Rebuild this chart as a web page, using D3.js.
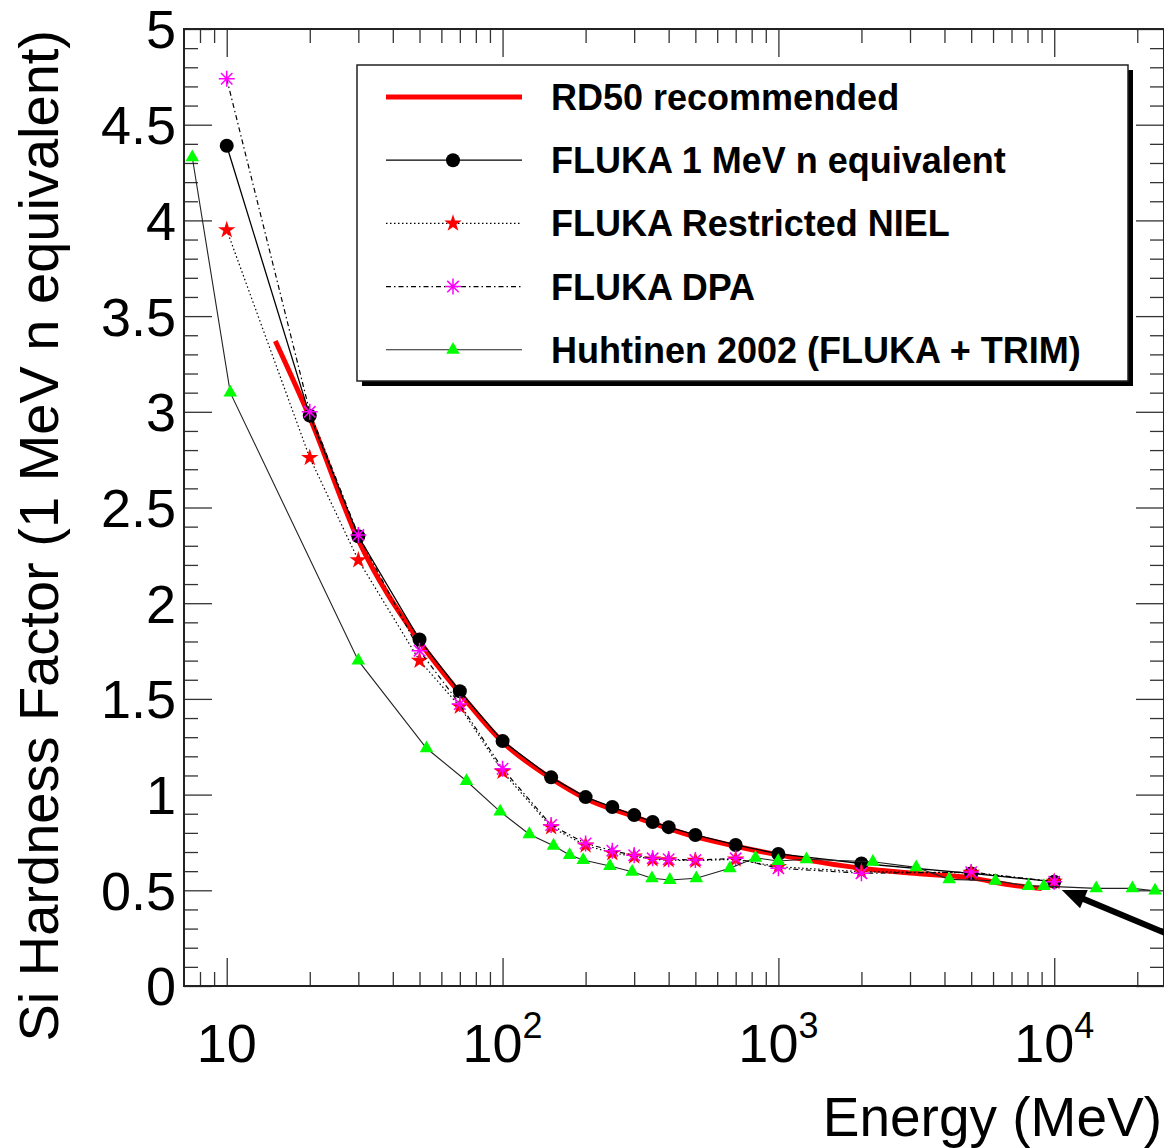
<!DOCTYPE html>
<html>
<head>
<meta charset="utf-8">
<script src="https://cdn.jsdelivr.net/npm/d3@7"></script>
<style>
  body { margin: 0; background: #fff; }
  svg { display: block; font-family: "Liberation Sans", Arial, Helvetica, sans-serif; }
</style>
</head>
<body>
<svg id="chart" width="1164" height="1148"></svg>
<script>
// energies (MeV) shared by the three FLUKA curves
const flukaEnergy = [10, 20, 30, 50, 70, 100, 150, 200, 250, 300, 350, 400, 500, 700, 1000, 2000, 5000, 10000];
const fluka1MeV   = [4.39, 2.98, 2.35, 1.81, 1.54, 1.28, 1.09, 0.987, 0.935, 0.893, 0.857, 0.83, 0.789, 0.737, 0.69, 0.64, 0.588, 0.545];
const flukaNiel   = [3.95, 2.76, 2.225, 1.70, 1.46, 1.12, 0.83, 0.735, 0.695, 0.678, 0.662, 0.658, 0.655, 0.662, 0.623, 0.597, 0.592, 0.545];
const flukaDpa    = [4.74, 3.00, 2.356, 1.752, 1.473, 1.135, 0.841, 0.745, 0.707, 0.683, 0.667, 0.662, 0.658, 0.667, 0.615, 0.589, 0.595, 0.545];

const huhtinenEnergy = [7.5, 10.3, 30, 53, 74, 98, 125, 153, 175, 196, 245, 295, 348, 404, 504, 667, 826, 998, 1264, 2200, 3160, 4160, 6120, 8070, 9170, 14200, 19200, 23200];
const huhtinenValues = [4.33, 3.10, 1.70, 1.242, 1.071, 0.911, 0.793, 0.733, 0.684, 0.658, 0.627, 0.597, 0.563, 0.554, 0.563, 0.615, 0.670, 0.653, 0.662, 0.649, 0.620, 0.557, 0.550, 0.522, 0.522, 0.510, 0.510, 0.498];

const rd50Energy = [15, 20, 30, 50, 70, 100, 150, 200, 300, 500, 700, 1000, 2000, 3000, 5000, 7000, 9000];
const rd50Values = [3.37, 2.97, 2.33, 1.80, 1.53, 1.275, 1.085, 0.98, 0.885, 0.78, 0.73, 0.685, 0.615, 0.59, 0.565, 0.527, 0.51];

const xMajorTicks = [10, 100, 1000, 10000];
const xTickBase   = ["10", "10", "10", "10"];
const xTickExp    = ["", "2", "3", "4"];
const yMajorTicks = [0, 0.5, 1, 1.5, 2, 2.5, 3, 3.5, 4, 4.5, 5];
const yTickLabels = ["0", "0.5", "1", "1.5", "2", "2.5", "3", "3.5", "4", "4.5", "5"];

const legendLabels = ["RD50 recommended", "FLUKA 1 MeV n equivalent", "FLUKA Restricted NIEL", "FLUKA DPA", "Huhtinen 2002 (FLUKA + TRIM)"];

// arrow annotation: tail, tip (energy, factor)
const arrowTail = [27000, 0.26];
const arrowTip  = [10650, 0.502];

let svg = d3.select("#chart"),
    pLeft = 184, pRight = 1164, pTop = 29, pBottom = 986;

let x = d3.scaleLog().domain([7, 25000]).range([pLeft, pRight]);
let y = d3.scaleLinear().domain([0, 5]).range([pBottom, pTop]);

const pts = (xs, ys) => xs.map((e, i) => [e, ys[i]]);

let line = d3.line().x(d => x(d[0])).y(d => y(d[1]));

// --- axes (ticks drawn inward on all four sides) ---
const minorX = x.ticks().filter(v => xMajorTicks.indexOf(v) < 0 && v > 7);
const minorY = d3.range(0, 51).map(i => i / 10).filter(v => Math.abs(v * 2 - Math.round(v * 2)) > 1e-6);

function styleAxis(g) {
  g.select(".domain").remove();
  g.selectAll("line").attr("stroke", "#333").attr("stroke-width", 1.3);
}

[[d3.axisBottom, pBottom], [d3.axisTop, pTop]].forEach(([ax, pos]) => {
  svg.append("g").attr("transform", "translate(0," + pos + ")")
    .call(ax(x).tickValues(minorX).tickSize(-14).tickFormat(""))
    .call(styleAxis);
  svg.append("g").attr("transform", "translate(0," + pos + ")")
    .call(ax(x).tickValues(xMajorTicks).tickSize(-28).tickFormat(""))
    .call(styleAxis);
});
[[d3.axisLeft, pLeft], [d3.axisRight, pRight]].forEach(([ax, pos]) => {
  svg.append("g").attr("transform", "translate(" + pos + ",0)")
    .call(ax(y).tickValues(minorY).tickSize(-14).tickFormat(""))
    .call(styleAxis);
  svg.append("g").attr("transform", "translate(" + pos + ",0)")
    .call(ax(y).tickValues(yMajorTicks).tickSize(-28).tickFormat(""))
    .call(styleAxis);
});

// frame
svg.append("rect")
  .attr("x", pLeft).attr("y", pTop)
  .attr("width", pRight - pLeft).attr("height", pBottom - pTop)
  .attr("fill", "none").attr("stroke", "#222").attr("stroke-width", 2);

// tick labels
svg.selectAll(".ylab").data(yMajorTicks).enter().append("text")
  .attr("class", "ylab")
  .attr("x", pLeft - 8).attr("y", d => y(d))
  .attr("dy", "0.36em")
  .attr("text-anchor", "end")
  .attr("font-size", 54)
  .text((d, i) => yTickLabels[i]);

let xl = svg.selectAll(".xlab").data(xMajorTicks).enter().append("text")
  .attr("class", "xlab")
  .attr("x", d => x(d)).attr("y", 1062)
  .attr("text-anchor", "middle")
  .attr("font-size", 54);
xl.append("tspan").text((d, i) => xTickBase[i]);
xl.append("tspan").attr("font-size", 36).attr("dy", -24).text((d, i) => xTickExp[i]);

// axis titles
svg.append("text")
  .attr("x", 1162).attr("y", 1136)
  .attr("text-anchor", "end")
  .attr("font-size", 55)
  .text("Energy (MeV)");

svg.append("text")
  .attr("transform", "translate(58," + (pTop + 1) + ") rotate(-90)")
  .attr("text-anchor", "end")
  .attr("font-size", 56)
  .text("Si Hardness Factor (1 MeV n equivalent)");

// --- markers ---
function marker(g, type) {
  if (type === "circle") {
    g.append("circle").attr("r", 7).attr("fill", "#000");
  } else if (type === "star") {
    g.append("path").attr("d", d3.symbol(d3.symbolStar, 95)()).attr("fill", "#ff0000");
  } else if (type === "asterisk") {
    g.append("path")
      .attr("d", "M-8,0L8,0M0,-8L0,8M-5.7,-5.7L5.7,5.7M-5.7,5.7L5.7,-5.7")
      .attr("stroke", "#ff00ff").attr("stroke-width", 1.5).attr("fill", "none");
  } else if (type === "triangle") {
    g.append("path").attr("d", d3.symbol(d3.symbolTriangle, 80)()).attr("fill", "#00ff00");
  }
}

const series = [
  { name: "rd50", data: pts(rd50Energy, rd50Values), stroke: "#ff0000", width: 5, dash: null, mark: null, curve: d3.curveMonotoneX },
  { name: "fluka1", data: pts(flukaEnergy, fluka1MeV), stroke: "#000", width: 1.3, dash: null, mark: "circle" },
  { name: "niel", data: pts(flukaEnergy, flukaNiel), stroke: "#000", width: 1.2, dash: "1.5,2.5", mark: "star" },
  { name: "dpa", data: pts(flukaEnergy, flukaDpa), stroke: "#000", width: 1.2, dash: "5,3,1.5,3", mark: "asterisk" },
  { name: "huhtinen", data: pts(huhtinenEnergy, huhtinenValues), stroke: "#222", width: 1.1, dash: null, mark: "triangle" }
];

series.forEach(s => {
  svg.append("path")
    .datum(s.data)
    .attr("fill", "none")
    .attr("stroke", s.stroke)
    .attr("stroke-width", s.width)
    .attr("stroke-dasharray", s.dash)
    .attr("d", line.curve(s.curve || d3.curveLinear));
  if (s.mark) {
    svg.selectAll(".m-" + s.name).data(s.data).enter().append("g")
      .attr("class", "m-" + s.name)
      .attr("transform", d => "translate(" + x(d[0]) + "," + y(d[1]) + ")")
      .each(function() { marker(d3.select(this), s.mark); });
  }
});

// --- arrow ---
{
  let tx = x(arrowTip[0]), ty = y(arrowTip[1]);
  let sx = x(arrowTail[0]), sy = y(arrowTail[1]);
  let dx = sx - tx, dy = sy - ty, len = Math.hypot(dx, dy);
  let ux = dx / len, uy = dy / len, px = -uy, py = ux;
  let hl = 24, hw = 10;
  svg.append("line")
    .attr("x1", sx).attr("y1", sy)
    .attr("x2", tx + ux * (hl - 2)).attr("y2", ty + uy * (hl - 2))
    .attr("stroke", "#000").attr("stroke-width", 6);
  svg.append("path")
    .attr("d", "M" + tx + "," + ty +
      "L" + (tx + ux * hl + px * hw) + "," + (ty + uy * hl + py * hw) +
      "L" + (tx + ux * hl - px * hw) + "," + (ty + uy * hl - py * hw) + "Z")
    .attr("fill", "#000");
}

// --- legend ---
let lg = svg.append("g");
lg.append("rect").attr("x", 362).attr("y", 70).attr("width", 771).attr("height", 316).attr("fill", "#000");
lg.append("rect").attr("x", 357).attr("y", 65).attr("width", 771).attr("height", 316)
  .attr("fill", "#fff").attr("stroke", "#222").attr("stroke-width", 1.5);

legendLabels.forEach((lab, i) => {
  let s = series[i];
  let ry = 97 + i * 63.2;
  let row = lg.append("g");
  row.append("line")
    .attr("x1", 386).attr("x2", 522).attr("y1", ry).attr("y2", ry)
    .attr("stroke", s.stroke)
    .attr("stroke-width", s.name === "rd50" ? 5 : s.width)
    .attr("stroke-dasharray", s.dash);
  if (s.mark) {
    let mg = row.append("g").attr("transform", "translate(453," + ry + ")");
    marker(mg, s.mark);
  }
  row.append("text")
    .attr("x", 551).attr("y", ry).attr("dy", "0.36em")
    .attr("font-size", 36).attr("font-weight", "bold")
    .text(lab);
});
</script>
</body>
</html>
